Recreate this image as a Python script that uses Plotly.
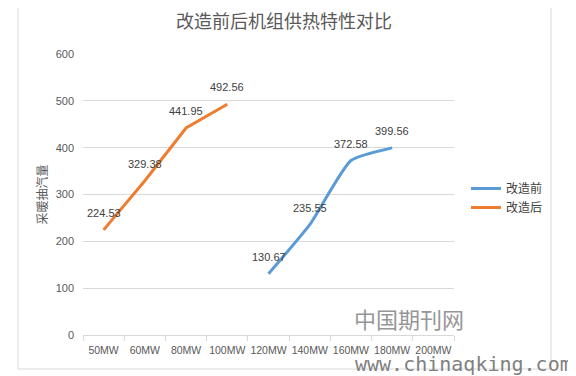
import plotly.graph_objects as go

categories = ["50MW", "60MW", "80MW", "100MW", "120MW", "140MW", "160MW", "180MW", "200MW"]
before_vals = [None, None, None, None, 130.67, 235.55, 372.58, 399.56, None]
after_vals = [224.53, 329.38, 441.95, 492.56, None, None, None, None, None]
y_ticks = [0, 100, 200, 300, 400, 500, 600]

W, H = 576, 376
OFF = 8  # page body margin
L, R, T, B = 83 - OFF, 122 + OFF, 54 - OFF, 41 + OFF
pw, ph = W - L - R, H - T - B

def px_x(px):
    return (px - OFF - L) / pw

def px_y(py):
    return (H - B - (py - OFF)) / ph

num_font = "Liberation Sans Narrow, Liberation Sans, Arial, sans-serif"
lab_font = "Liberation Sans, Arial, sans-serif"
cjk_font = "Noto Sans CJK SC, sans-serif"

fig = go.Figure()
fig.add_trace(go.Scatter(
    x=categories, y=before_vals, name="改造前", mode="lines",
    line=dict(color="#5B9BD5", width=3, shape="spline", smoothing=0.5),
    connectgaps=False,
))
fig.add_trace(go.Scatter(
    x=categories, y=after_vals, name="改造后", mode="lines",
    line=dict(color="#ED7D31", width=3),
    connectgaps=False,
))

for vals in (before_vals, after_vals):
    for c, v in zip(categories, vals):
        if v is None:
            continue
        fig.add_annotation(x=c, y=v, text=f"{v:.2f}", showarrow=False, yshift=17,
                           font=dict(family=lab_font, size=11, color="#404040"))

fig.update_layout(
    width=W, height=H,
    margin=dict(l=L, r=R, t=T, b=B, autoexpand=False),
    paper_bgcolor="white", plot_bgcolor="white",
    title=dict(text="改造前后机组供热特性对比", x=(284 - OFF) / W, xanchor="center",
               y=1 - (22 - OFF) / H, yanchor="middle",
               font=dict(family=cjk_font, size=18, color="#595959")),
    legend=dict(x=px_x(466), y=px_y(174), xanchor="left", yanchor="top",
                font=dict(family=cjk_font, size=12, color="#404040"),
                itemwidth=30, tracegroupgap=2, bgcolor="rgba(0,0,0,0)"),
    showlegend=True,
)
fig.update_xaxes(
    type="category", categoryorder="array", categoryarray=categories,
    range=[-0.5, len(categories) - 0.5], automargin=False, tickangle=0,
    tickson="boundaries", ticks="outside", ticklen=5, tickcolor="#D9D9D9",
    showline=True, linecolor="#D9D9D9", linewidth=1, showgrid=False, zeroline=False,
    tickfont=dict(family=num_font, size=10.5, color="#595959"), ticklabelstandoff=5,
)
fig.update_yaxes(
    range=[0, 600], tickvals=y_ticks, showgrid=True, gridcolor="#D9D9D9",
    zeroline=False, showline=False, ticks="", automargin=False,
    tickfont=dict(family=lab_font, size=11, color="#595959"), ticklabelstandoff=8,
    title=dict(text="采暖抽汽量", font=dict(family=cjk_font, size=12, color="#595959"), standoff=5),
)

# chart border
fig.add_shape(type="rect", xref="paper", yref="paper",
              x0=px_x(18), x1=px_x(551), y0=px_y(369), y1=px_y(3),
              line=dict(color="#D9D9D9", width=1), layer="below")

# watermark
fig.add_annotation(text="中国期刊网", xref="paper", yref="paper",
                   x=px_x(409), y=px_y(318), xanchor="center", yanchor="middle",
                   showarrow=False,
                   font=dict(family=cjk_font, size=22, color="#969696"))
fig.add_annotation(text="www.chinaqking.com", xref="paper", yref="paper",
                   x=px_x(574), y=px_y(364), xanchor="right", yanchor="middle",
                   showarrow=False,
                   font=dict(family="DejaVu Sans Mono, monospace", size=20, color="#7F7F7F"))

fig.write_html("out.html")
